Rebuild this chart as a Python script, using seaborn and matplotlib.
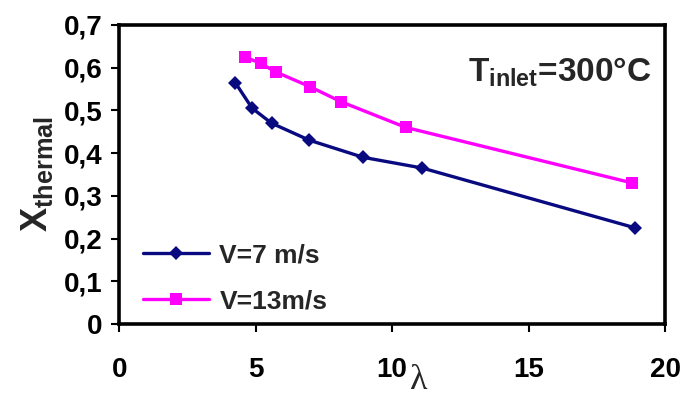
import matplotlib
matplotlib.use("Agg")
import matplotlib.pyplot as plt
import seaborn as sns
import pandas as pd

# data
lam_v7 = [4.25, 4.87, 5.58, 6.97, 8.94, 11.1, 18.9]
x_v7 = [0.565, 0.505, 0.47, 0.43, 0.39, 0.365, 0.225]
lam_v13 = [4.6, 5.18, 5.73, 7.0, 8.13, 10.5, 18.8]
x_v13 = [0.625, 0.61, 0.59, 0.555, 0.52, 0.46, 0.33]

x_ticks = [0, 5, 10, 15, 20]
y_ticks = [0, 0.1, 0.2, 0.3, 0.4, 0.5, 0.6, 0.7]
y_ticklabels = ['0', '0,1', '0,2', '0,3', '0,4', '0,5', '0,6', '0,7']

sns.set_style("ticks")
plt.rcParams['font.family'] = ['Liberation Sans', 'DejaVu Sans']
plt.rcParams['font.weight'] = 'bold'
plt.rcParams['mathtext.fontset'] = 'custom'
plt.rcParams['mathtext.rm'] = 'Liberation Sans:bold'
plt.rcParams['mathtext.bf'] = 'Liberation Sans:bold'
plt.rcParams['mathtext.it'] = 'Liberation Sans:bold'

df7 = pd.DataFrame({'lam': lam_v7, 'x': x_v7})
df13 = pd.DataFrame({'lam': lam_v13, 'x': x_v13})

fig = plt.figure(figsize=(6.85, 4.01), dpi=100)
ax = fig.add_axes([0.174, 0.192, 0.797, 0.746])

sns.lineplot(data=df7, x='lam', y='x', sort=False, ax=ax, color='#0a0a80',
             marker='D', markersize=7, markeredgewidth=0, linewidth=2.4,
             label='V=7 m/s')
sns.lineplot(data=df13, x='lam', y='x', sort=False, ax=ax, color='#ff00ff',
             marker='s', markersize=8, markeredgewidth=0, linewidth=2.4,
             label='V=13m/s')

ax.set_xlim(0, 20)
ax.set_ylim(0, 0.7)
ax.set_xticks(x_ticks)
ax.set_xticklabels([str(t) for t in x_ticks], fontsize=20, fontweight='bold')
ax.set_yticks(y_ticks)
ax.set_yticklabels(y_ticklabels, fontsize=20, fontweight='bold')
ax.tick_params(axis='x', direction='out', length=6, width=1.5, pad=18, colors='black')
ax.tick_params(axis='y', direction='out', length=6, width=1.5, pad=6, colors='black')
for sp in ax.spines.values():
    sp.set_visible(True)
    sp.set_linewidth(2.6)
    sp.set_color('black')

ax.set_xlabel('')
ax.set_ylabel(r'$\mathbf{X}_{\mathbf{thermal}}$', fontsize=26, labelpad=6)
ax.text(0.548, -0.19, 'λ', transform=ax.transAxes, ha='center', va='center',
        fontsize=26, fontweight='normal', family=['Liberation Serif', 'DejaVu Serif'])

ax.text(0.975, 0.84, r'$\mathbf{T}_{\mathbf{inlet}}$=300°C', transform=ax.transAxes,
        ha='right', va='center', fontsize=24, fontweight='bold')

ax.legend(loc='lower left', bbox_to_anchor=(0.0, -0.045), frameon=False,
          handlelength=2.5, labelspacing=0.85, handletextpad=0.4,
          prop={'weight': 'bold', 'size': 19})

fig.savefig('out.png', dpi=100)
